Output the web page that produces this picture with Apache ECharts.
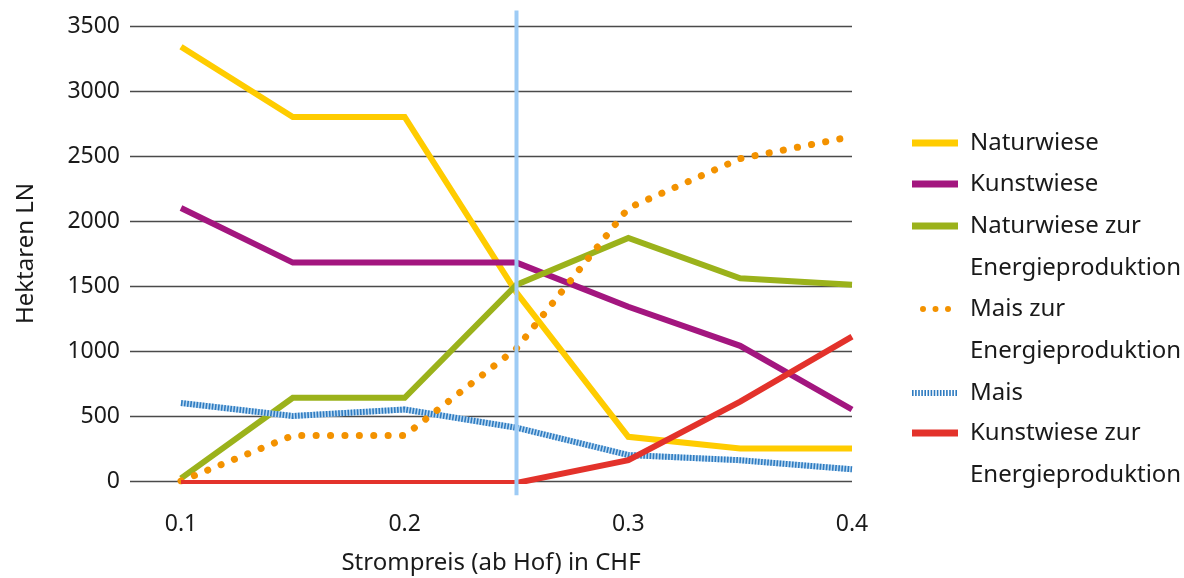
<!DOCTYPE html>
<html><head><meta charset="utf-8">
<script src="https://cdn.jsdelivr.net/npm/echarts@6/dist/echarts.min.js"></script>
<style>html,body{margin:0;padding:0;background:#fff}#c{width:1184px;height:578px}</style>
</head><body><div id="c"></div>
<script>
// ---- data ----
const prices = [0.1, 0.15, 0.2, 0.25, 0.3, 0.35, 0.4];
const naturwiese = [3340, 2800, 2800, 1450, 340, 250, 250];
const kunstwiese = [2100, 1680, 1680, 1680, 1340, 1040, 550];
const naturwieseEnergie = [20, 640, 640, 1510, 1870, 1560, 1510];
const maisEnergie = [0, 350, 350, 1020, 2100, 2480, 2650];
const mais = [600, 500, 550, 410, 200, 160, 90];
const kunstwieseEnergie = [-15, -15, -15, -15, 160, 610, 1110];
const xTickLabels = [0.1, 0.2, 0.3, 0.4];
const markerPrice = 0.25;
const markerSpan = [-110, 3620];
const names = ['Naturwiese', 'Kunstwiese', 'Naturwiese zur Energieproduktion',
  'Mais zur Energieproduktion', 'Mais', 'Kunstwiese zur Energieproduktion'];

const FONT = 'Noto Sans';
const TXT = '#1a1a1a';
const zip = arr => prices.map((p, i) => [p, arr[i]]);

function lineSeries(name, arr, color, z, extra) {
  return Object.assign({
    name, type: 'line', data: zip(arr), z,
    symbol: 'none', showSymbol: false, silent: true,
    lineStyle: { color, width: 6, cap: 'butt', join: 'miter' },
    itemStyle: { color }
  }, extra || {});
}

// legend icons
const dotsIcon = 'path://M0,3a3,3 0 1,0 6,0a3,3 0 1,0 -6,0Z M12.5,3a3,3 0 1,0 6,0a3,3 0 1,0 -6,0Z M25,3a3,3 0 1,0 6,0a3,3 0 1,0 -6,0Z';
let hatch = '';
for (let i = 0; i < 15; i++) hatch += 'M' + (i * 3.1) + ',0h1.6v6h-1.6Z';
const hatchIcon = 'path://' + hatch;

const legendCfg = [
  { top: 122, left: 912, w: 46, h: 7, icon: 'rect', pad: 7 },
  { top: 163, left: 912, w: 46, h: 7, icon: 'rect', pad: 7 },
  { top: 163, left: 912, w: 46, h: 7, icon: 'rect', pad: 7 },
  { top: 246, left: 920, w: 31, h: 6, icon: dotsIcon, pad: 14 },
  { top: 372, left: 912, w: 45, h: 6, icon: hatchIcon, pad: 8 },
  { top: 370, left: 912, w: 46, h: 7, icon: 'rect', pad: 7 }
];
const legends = names.map((n, i) => {
  const c = legendCfg[i];
  return {
    orient: 'vertical', left: c.left, top: c.top, padding: 0,
    itemWidth: c.w, itemHeight: c.h, icon: c.icon, data: [n],
    itemStyle: { borderWidth: 0 },
    formatter: s => s.indexOf(' zur ') >= 0 ? '\n' + s.replace(' zur ', ' zur\n') : s,
    textStyle: { fontFamily: FONT, fontSize: 24, color: TXT, lineHeight: 42, padding: [0, 0, 0, c.pad] }
  };
});

const chart = echarts.init(document.getElementById('c'), null, { renderer: 'canvas' });
chart.setOption({
  animation: false,
  backgroundColor: '#fff',
  grid: { left: 130, right: 332, top: 26, bottom: 97, containLabel: false, outerBoundsMode: 'none' },
  legend: legends,
  xAxis: {
    type: 'value', min: 0.0772, max: 0.4,
    name: 'Strompreis (ab Hof) in CHF', nameLocation: 'middle', nameGap: 70,
    nameTextStyle: { fontFamily: FONT, fontSize: 24, color: TXT },
    axisLine: { show: false }, axisTick: { show: false }, splitLine: { show: false },
    axisLabel: { customValues: xTickLabels, margin: 32, fontFamily: FONT, fontSize: 23, color: TXT,
      formatter: v => (Math.round(v * 10) / 10).toString() }
  },
  yAxis: {
    type: 'value', min: 0, max: 3500, interval: 500,
    name: 'Hektaren LN', nameLocation: 'middle', nameGap: 92,
    nameTextStyle: { fontFamily: FONT, fontSize: 24, color: TXT },
    axisLine: { show: false }, axisTick: { show: false },
    splitLine: { lineStyle: { color: '#4a4a4a', width: 1.3 } },
    axisLabel: { margin: 10, fontFamily: FONT, fontSize: 23, color: TXT, formatter: v => String(v) }
  },
  series: [
    lineSeries(names[0], naturwiese, '#FFCC00', 2),
    lineSeries(names[1], kunstwiese, '#A3167F', 2),
    lineSeries(names[2], naturwieseEnergie, '#9BB21B', 2),
    lineSeries(names[3], maisEnergie, '#F39200', 4,
      { lineStyle: { color: '#F39200', width: 7, type: [0.1, 14.3], cap: 'round' } }),
    { type: 'line', z: 3, silent: true, symbol: 'none', data: zip(mais),
      lineStyle: { color: '#B9D8F2', width: 6 } },
    lineSeries(names[4], mais, '#2E7BC0', 3,
      { lineStyle: { color: '#2E7BC0', width: 6, type: [1.6, 1.5], cap: 'butt' } }),
    lineSeries(names[5], kunstwieseEnergie, '#E3322B', 5),
    {
      type: 'line', z: 6, silent: true, symbol: 'none', clip: false,
      data: [[markerPrice, markerSpan[0]], [markerPrice, markerSpan[1]]],
      lineStyle: { color: '#9DCBF5', width: 4 }
    }
  ]
});
</script></body></html>
